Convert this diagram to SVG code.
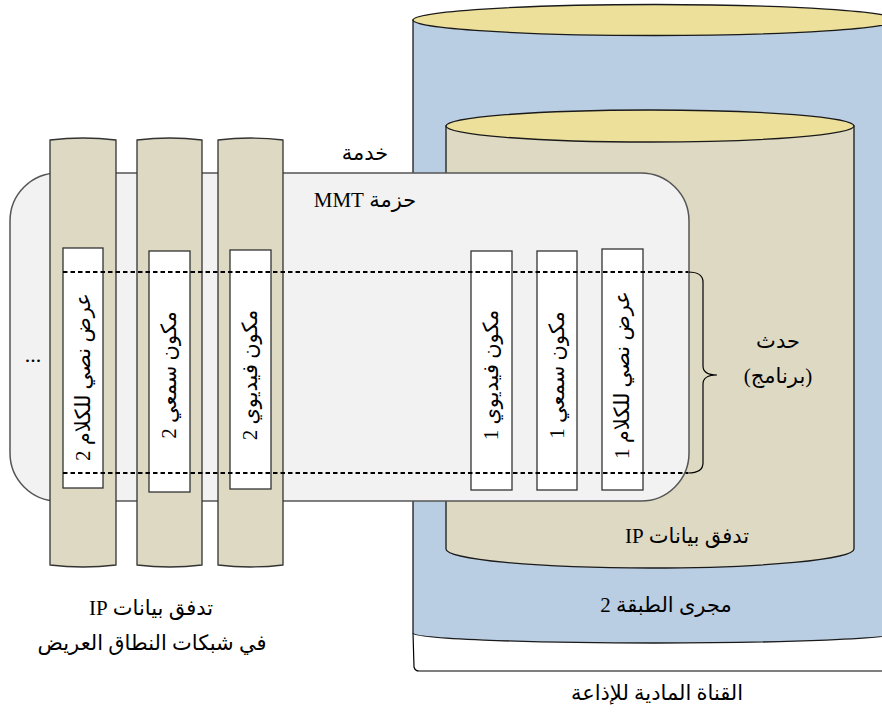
<svg xmlns="http://www.w3.org/2000/svg" width="882" height="714" viewBox="0 0 882 714">
<style>
.cyl{stroke:#1a1a1a;stroke-width:1.3}
.top{fill:#EDE09A}
.blue{fill:#B9CDE3}
.tan{fill:#DDD9C3}
.col{fill:#DDD9C3;stroke:#333;stroke-width:1.3}
.wbox{fill:#fff;stroke:#333;stroke-width:1.3}
.dash{fill:none;stroke:#000;stroke-width:1.8;stroke-dasharray:4.5,3}
.brace{fill:none;stroke:#000;stroke-width:1.2}
text{font-family:"Liberation Serif","DejaVu Sans",serif;fill:#000;text-anchor:middle;direction:rtl;unicode-bidi:embed}
.lbl{font-size:21px}
.vl{font-size:21px}
</style>
<rect width="882" height="714" fill="#fff"/>
<g id="physical-channel">
<path class="brace" d="M413,633 L414,667 Q415,671 419,671 L882,671"/>
<text class="lbl" x="657" y="700" direction="rtl">القناة المادية للإذاعة</text>
</g>
<g id="layer2-stream">
<path class="cyl blue" d="M413,20 V633 A242,10 0 0 0 897,633 V20 Z"/>
<ellipse class="cyl top" cx="655" cy="20" rx="242" ry="15.5"/>
<text class="lbl" x="666" y="612" direction="rtl">مجرى الطبقة 2</text>
</g>
<g id="ip-flow">
<path class="cyl tan" d="M446,126 V549 A204,19 0 0 0 854,549 V126 Z"/>
<ellipse class="cyl top" cx="650" cy="126" rx="204" ry="16"/>
<text class="lbl" x="687" y="543" direction="rtl">تدفق بيانات IP</text>
</g>
<g id="mmt-package">
<rect x="10" y="173" width="679" height="328" rx="48" ry="48" fill="#F2F2F2" stroke="#555" stroke-width="1.5"/>
<text class="lbl" x="365" y="207" direction="rtl">حزمة MMT</text>
<text x="33" y="362" style="font-size:22px;direction:ltr">...</text>
</g>
<g id="service-label">
<text class="lbl" x="365" y="160" direction="rtl">خدمة</text>
</g>
<g id="broadband-flow-1">
<path class="col" d="M50,140 Q83,136 116,140 V565 Q83,569 50,565 Z"/>
<rect class="wbox" x="63" y="248" width="40" height="240"/>
<text class="vl" transform="translate(83,377) rotate(-90)" y="7" direction="rtl">عرض نصي للكلام 2</text>
</g>
<g id="broadband-flow-2">
<path class="col" d="M137,140 Q170,136 202,140 V565 Q170,569 137,565 Z"/>
<rect class="wbox" x="149" y="251" width="41" height="241"/>
<text class="vl" transform="translate(169,375) rotate(-90)" y="7" direction="rtl">مكون سمعي 2</text>
</g>
<g id="broadband-flow-3">
<path class="col" d="M218,140 Q250,136 283,140 V565 Q250,569 218,565 Z"/>
<rect class="wbox" x="230" y="250" width="41" height="239"/>
<text class="vl" transform="translate(250,375) rotate(-90)" y="7" direction="rtl">مكون فيديوي 2</text>
</g>
<g id="video-1">
<rect class="wbox" x="471" y="251" width="41" height="239"/>
<text class="vl" transform="translate(491,375) rotate(-90)" y="7" direction="rtl">مكون فيديوي 1</text>
</g>
<g id="audio-1">
<rect class="wbox" x="537" y="251" width="40" height="239"/>
<text class="vl" transform="translate(557,375) rotate(-90)" y="7" direction="rtl">مكون سمعي 1</text>
</g>
<g id="caption-1">
<rect class="wbox" x="602" y="249" width="41" height="241"/>
<text class="vl" transform="translate(622,375) rotate(-90)" y="7" direction="rtl">عرض نصي للكلام 1</text>
</g>
<g id="connectors">
<line class="dash" x1="63" y1="272" x2="688" y2="272"/>
<line class="dash" x1="63" y1="473" x2="688" y2="473"/>
<path class="brace" d="M688,272 Q703,272 703,282 V366 Q703,375 717,375 Q703,375 703,384 V463 Q703,473 688,473"/>
</g>
<g id="event-label">
<text class="lbl" x="778" y="348" direction="rtl">حدث</text>
<text class="lbl" x="778" y="383" direction="rtl">(برنامج)</text>
</g>
<g id="broadband-label">
<text class="lbl" x="151" y="615" direction="rtl">تدفق بيانات IP</text>
<text class="lbl" x="152" y="650" direction="rtl">في شبكات النطاق العريض</text>
</g>
</svg>
